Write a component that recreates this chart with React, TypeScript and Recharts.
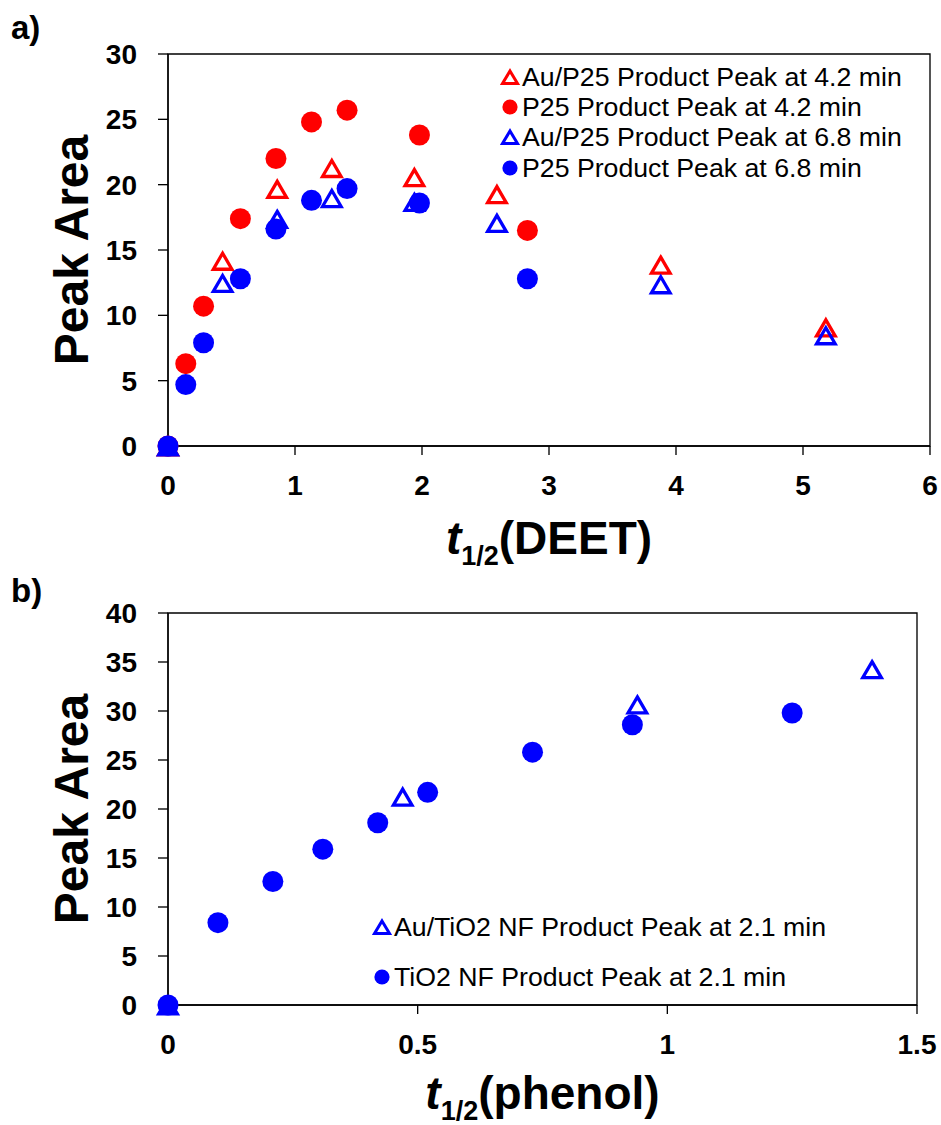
import React from 'react';
import { ScatterChart, Scatter, XAxis, YAxis, ReferenceArea, Legend } from 'recharts';

const FONT = '"Liberation Sans", Arial, Helvetica, sans-serif';
const RED = '#ff0000';
const BLUE = '#0000ff';

// panel a: DEET half-lives
const deetCircleT = [0, 0.14, 0.28, 0.57, 0.85, 1.13, 1.41, 1.98, 2.83];
const p25Peak42 = [0, 6.3, 10.7, 17.4, 22.0, 24.8, 25.7, 23.8, 16.5];
const p25Peak68 = [0, 4.7, 7.9, 12.8, 16.6, 18.8, 19.7, 18.6, 12.8];

const deetTriangleT = [0, 0.43, 0.86, 1.29, 1.94, 2.59, 3.88, 5.18];
const auP25Peak42 = [0, 14.2, 19.7, 21.3, 20.6, 19.3, 13.9, 9.1];
const auP25Peak68 = [0, 12.5, 17.4, 19.0, 18.7, 17.1, 12.4, 8.5];

const deetXTicks = [0, 1, 2, 3, 4, 5, 6];
const deetYTicks = [0, 5, 10, 15, 20, 25, 30];

// panel b: phenol half-lives
const phenolCircleT = [0, 0.1, 0.21, 0.31, 0.42, 0.52, 0.73, 0.93, 1.25];
const tio2Peak21 = [0, 8.4, 12.6, 15.9, 18.6, 21.7, 25.8, 28.6, 29.8];

const phenolTriangleT = [0, 0.47, 0.94, 1.41];
const auTio2Peak21 = [0, 21.3, 30.7, 34.3];

const phenolXTicks = [0, 0.5, 1, 1.5];
const phenolYTicks = [0, 5, 10, 15, 20, 25, 30, 35, 40];

const legendA = [
  { label: 'Au/P25 Product Peak at 4.2 min', color: RED, marker: 'triangle' },
  { label: 'P25 Product Peak at 4.2 min', color: RED, marker: 'circle' },
  { label: 'Au/P25 Product Peak at 6.8 min', color: BLUE, marker: 'triangle' },
  { label: 'P25 Product Peak at 6.8 min', color: BLUE, marker: 'circle' },
];
const legendB = [
  { label: 'Au/TiO2 NF Product Peak at 2.1 min', color: BLUE, marker: 'triangle' },
  { label: 'TiO2 NF Product Peak at 2.1 min', color: BLUE, marker: 'circle' },
];

const points = (xs: number[], ys: number[]) => xs.map((x, i) => ({ x, y: ys[i] }));

const triangle = (color: string) => (props: any) => {
  const { cx, cy } = props;
  return (
    <path
      d={`M${cx},${cy - 7.2} L${cx + 9.3},${cy + 8.8} L${cx - 9.3},${cy + 8.8} Z`}
      fill="none"
      stroke={color}
      strokeWidth={3.3}
    />
  );
};

const circle = (color: string) => (props: any) => (
  <circle cx={props.cx} cy={props.cy} r={10.5} fill={color} />
);

const LegendMarker = ({ marker, color }: { marker: string; color: string }) => (
  <svg width={20} height={20} style={{ display: 'block' }}>
    {marker === 'triangle' ? (
      <path d="M10,4 L17.5,16.5 L2.5,16.5 Z" fill="none" stroke={color} strokeWidth={3} />
    ) : (
      <circle cx={10} cy={10} r={7.6} fill={color} />
    )}
  </svg>
);

const LegendBox = ({ items, rowHeight }: { items: typeof legendA; rowHeight: number }) => (
  <div style={{ fontFamily: FONT, fontSize: 26.7, color: '#000' }}>
    {items.map((it) => (
      <div key={it.label} style={{ display: 'flex', alignItems: 'center', height: rowHeight, lineHeight: `${rowHeight}px`, whiteSpace: 'nowrap' }}>
        <LegendMarker marker={it.marker} color={it.color} />
        <span style={{ marginLeft: 2 }}>{it.label}</span>
      </div>
    ))}
  </div>
);

// x title under the axis line, with a subscripted "1/2"
const xTitle = (main: string, gap: number) => (props: any) => {
  const vb = props.viewBox || { x: 0, y: 0, width: 0 };
  const cx = vb.x + vb.width / 2;
  const y = vb.y + gap;
  return (
    <text x={cx} y={y} textAnchor="middle" fontFamily={FONT} fontWeight={700} fontSize={46} fill="#000">
      <tspan fontStyle="italic">t</tspan>
      <tspan fontSize={27} dy={11}>1/2</tspan>
      <tspan dy={-11}>{main}</tspan>
    </text>
  );
};

const yTitle = (props: any) => {
  const vb = props.viewBox || { x: 0, y: 0, width: 0, height: 0 };
  const x = vb.x + vb.width - 80;
  const cy = vb.y + vb.height / 2;
  return (
    <text x={x} y={cy} transform={`rotate(-90, ${x}, ${cy})`} textAnchor="middle" fontFamily={FONT} fontWeight={700} fontSize={48} fill="#000">
      Peak Area
    </text>
  );
};

const axisStroke = { stroke: '#000', strokeWidth: 1.33 };
const tickFont = { fill: '#000', fontSize: 28, fontWeight: 700, fontFamily: FONT };

const PanelA = () => (
  <ScatterChart width={941} height={600} margin={{ top: 54, right: 11, bottom: 124, left: 108 }}>
    <XAxis type="number" dataKey="x" domain={[0, 6]} ticks={deetXTicks} height={30}
      axisLine={axisStroke} tickLine={axisStroke} tickSize={9} tickMargin={20} tick={tickFont}
      label={{ content: xTitle('(DEET)', 108) }} />
    <YAxis type="number" dataKey="y" domain={[0, 30]} ticks={deetYTicks} width={60}
      axisLine={axisStroke} tickLine={axisStroke} tickSize={10} tickMargin={21} tick={tickFont}
      label={{ content: yTitle }} />
    <ReferenceArea x1={0} x2={6} y1={0} y2={30} fill="none" stroke="#000" strokeWidth={1.33} />
    <Legend layout="vertical" verticalAlign="middle" align="center"
      wrapperStyle={{ left: 500, top: 62, width: 430 }}
      content={() => <LegendBox items={legendA} rowHeight={30.2} />} />
    <Scatter name={legendA[0].label} data={points(deetTriangleT, auP25Peak42)} shape={triangle(RED)} isAnimationActive={false} />
    <Scatter name={legendA[1].label} data={points(deetCircleT, p25Peak42)} shape={circle(RED)} isAnimationActive={false} />
    <Scatter name={legendA[2].label} data={points(deetTriangleT, auP25Peak68)} shape={triangle(BLUE)} isAnimationActive={false} />
    <Scatter name={legendA[3].label} data={points(deetCircleT, p25Peak68)} shape={circle(BLUE)} isAnimationActive={false} />
  </ScatterChart>
);

const PanelB = () => (
  <ScatterChart width={941} height={555} margin={{ top: 43, right: 24, bottom: 90, left: 108 }}>
    <XAxis type="number" dataKey="x" domain={[0, 1.5]} ticks={phenolXTicks} height={30}
      axisLine={axisStroke} tickLine={axisStroke} tickSize={9} tickMargin={20} tick={tickFont}
      label={{ content: xTitle('(phenol)', 104) }} />
    <YAxis type="number" dataKey="y" domain={[0, 40]} ticks={phenolYTicks} width={60}
      axisLine={axisStroke} tickLine={axisStroke} tickSize={10} tickMargin={21} tick={tickFont}
      label={{ content: yTitle }} />
    <ReferenceArea x1={0} x2={1.5} y1={0} y2={40} fill="none" stroke="#000" strokeWidth={1.33} />
    <Legend layout="vertical" verticalAlign="middle" align="center"
      wrapperStyle={{ left: 372, top: 332, width: 480 }}
      content={() => <LegendBox items={legendB} rowHeight={50} />} />
    <Scatter name={legendB[0].label} data={points(phenolTriangleT, auTio2Peak21)} shape={triangle(BLUE)} isAnimationActive={false} />
    <Scatter name={legendB[1].label} data={points(phenolCircleT, tio2Peak21)} shape={circle(BLUE)} isAnimationActive={false} />
  </ScatterChart>
);

const panelLetter: React.CSSProperties = {
  position: 'absolute', left: 11, fontFamily: FONT, fontWeight: 700, fontSize: 33, lineHeight: '33px',
};

export default function App() {
  return (
    <div style={{ position: 'absolute', left: 0, top: 0, width: 941, height: 1125, background: '#fff', fontFamily: FONT }}>
      <div style={{ ...panelLetter, top: 11 }}>a)</div>
      <div style={{ ...panelLetter, top: 574 }}>b)</div>
      <div style={{ position: 'absolute', left: 0, top: 0 }}>
        <PanelA />
      </div>
      <div style={{ position: 'absolute', left: 0, top: 570 }}>
        <PanelB />
      </div>
    </div>
  );
}
